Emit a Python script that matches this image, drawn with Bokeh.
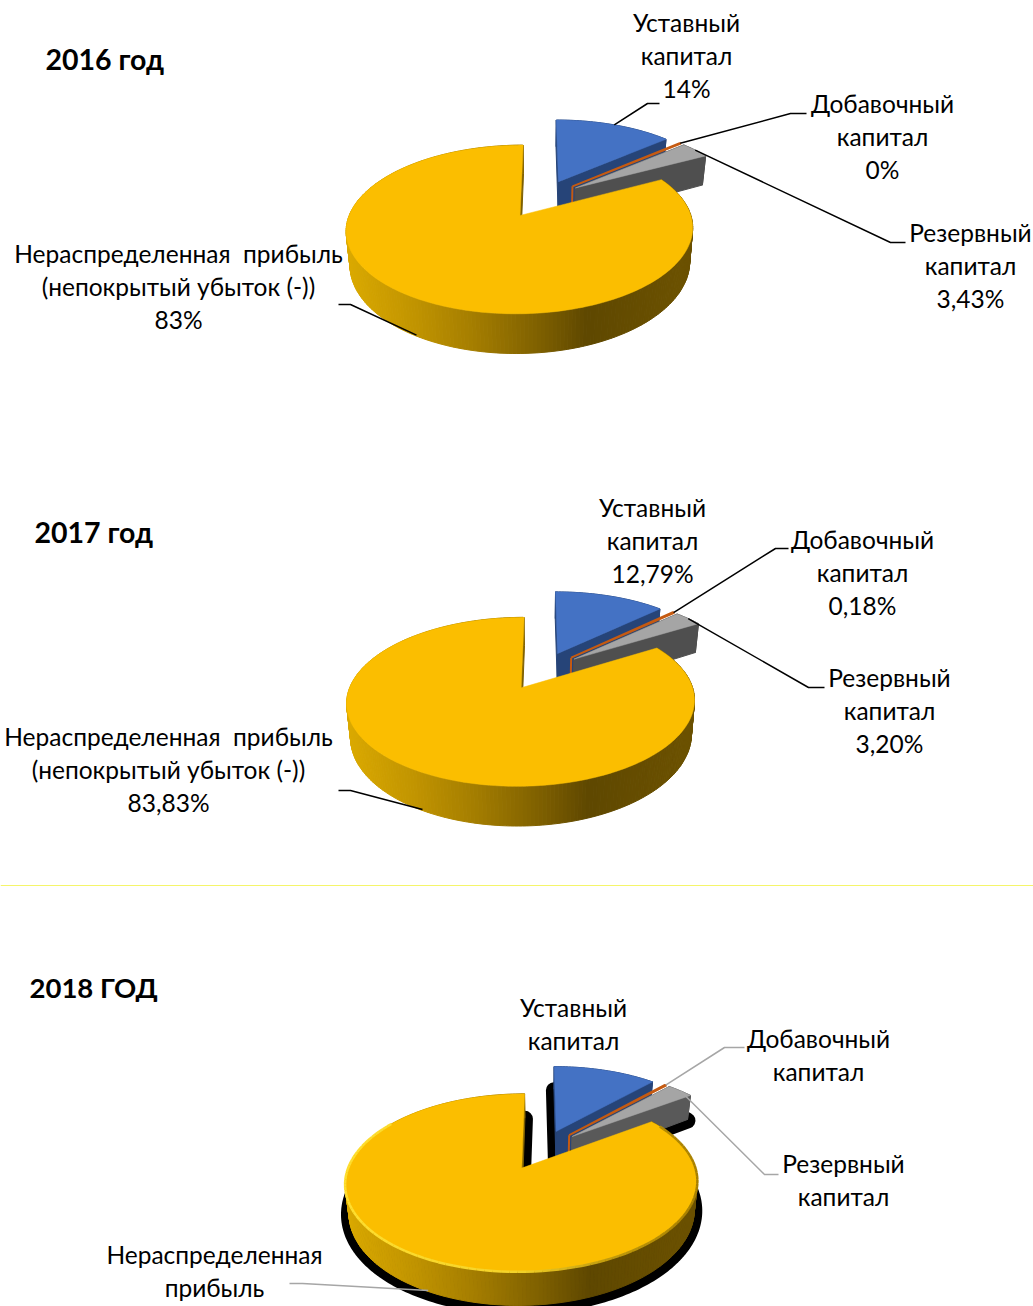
import numpy as np
from bokeh.plotting import figure
from bokeh.models import Range1d
from bokeh.core.properties import value
from bokeh.embed import file_html
from bokeh.resources import INLINE

# ---------- data ----------
values_2016 = [13.6, 0.17, 3.43, 82.8]
values_2017 = [12.79, 0.18, 3.20, 83.83]
values_2018 = [11.8, 0.2, 3.0, 85.0]
labels_2016 = ["14%", "0%", "3,43%", "83%"]
labels_2017 = ["12,79%", "0,18%", "3,20%", "83,83%"]
titles = ["2016 год", "2017 год", "2018 ГОД"]
cat_ustav = ["Уставный", "капитал"]
cat_dobav = ["Добавочный", "капитал"]
cat_rezerv = ["Резервный", "капитал"]
cat_nerasp = ["Нераспределенная\u00a0\u00a0прибыль", "(непокрытый убыток (-))"]
cat_nerasp_short = ["Нераспределенная", "прибыль"]

TOP = ["#4472c4", "#ed7d31", "#a5a5a5", "#fbbe00"]
SIDE = ["#264478", "#a5521b", "#4f4f4f", "#7d5f00"]
FONT = "Lato"
FS = "24.5px"

p = figure(width=1033, height=1306, x_range=Range1d(0, 1033), y_range=Range1d(1306, 0),
           x_axis_type=None, y_axis_type=None, toolbar_location=None,
           output_backend="svg", min_border=0, outline_line_color=None,
           background_fill_color="white", border_fill_color="white")
p.grid.visible = False


def hex2rgb(h):
    return np.array([int(h[i:i + 2], 16) for i in (1, 3, 5)], float)


STOPS = [(0.0, "#dbaa00"), (0.2, "#c19400"), (0.37, "#a57e00"), (0.57, "#7d5f00"),
         (0.7, "#5f4800"), (0.95, "#6b5100"), (1.0, "#6b5100")]


def wall_colour(t):
    ts = [s[0] for s in STOPS]
    rgb = [np.interp(t, ts, [hex2rgb(s[1])[i] for s in STOPS]) for i in range(3)]
    return "#%02x%02x%02x" % tuple(int(c) for c in rgb)


def draw_pie(vals, cx, cy, a, b, depth, k=0.16, e=0.25, shadow=False, bevel=False, side=None):
    side = side or SIDE

    def top(u, v):
        w = 1 - k * v
        return cx + a * u / w, cy + b * v / w

    def bot(u, v):
        w = 1 - k * v
        return cx + 0.98 * a * u / w, cy + b * v / w + depth / w

    vals = np.asarray(vals, float)
    edges = np.concatenate([[0], np.cumsum(vals)]) / vals.sum() * 2 * np.pi
    slices = []
    for i in range(4):
        t0, t1 = edges[i], edges[i + 1]
        mid = (t0 + t1) / 2
        cu, cv = e * np.sin(mid), -e * np.cos(mid)
        th = np.linspace(t0, t1, max(6, int((t1 - t0) / 0.02)))
        slices.append(dict(cu=cu, cv=cv, th=th, mid=mid))

    def outline(f, s):
        us = s["cu"] + np.sin(s["th"])
        vs = s["cv"] - np.cos(s["th"])
        x, y = f(us, vs)
        ax, ay = f(s["cu"], s["cv"])
        return np.r_[ax, x], np.r_[ay, y]

    if shadow:
        for s in slices:
            x, y = outline(bot, s)
            p.patch(x, y + 1, fill_color="black", line_color="black", line_width=16, line_join="round")

    def wall_arc(s, colour):
        us = s["cu"] + np.sin(s["th"])
        vs = s["cv"] - np.cos(s["th"])
        xt, yt = top(us, vs)
        xb, yb = bot(us, vs)
        p.patch(np.r_[xt, xb[::-1]], np.r_[yt, yb[::-1]], fill_color=colour, line_color=colour)

    def radial(s, t, colour):
        u, v = s["cu"] + np.sin(t), s["cv"] - np.cos(t)
        x1, y1 = top(s["cu"], s["cv"])
        x2, y2 = top(u, v)
        x3, y3 = bot(u, v)
        x4, y4 = bot(s["cu"], s["cv"])
        p.patch([x1, x2, x3, x4], [y1, y2, y3, y4], fill_color=colour, line_color=colour)

    # blue, then grey; the thin orange slice shows only as a rim
    for i in (0, 2):
        s = slices[i]
        wall_arc(s, side[i])
        radial(s, s["th"][0], side[i])
        radial(s, s["th"][-1], side[i])
        x, y = outline(top, s)
        p.patch(x, y, fill_color=TOP[i], line_color=TOP[i], line_width=0.5)

    s = slices[1]
    x, y = outline(top, s)
    p.patch(x, y, fill_color=TOP[1], line_color="#c55a11", line_width=2)
    xa, ya = top(s["cu"], s["cv"])
    xb0, yb0 = bot(s["cu"], s["cv"])
    p.line([xa, xb0], [ya, yb0], line_color="#c55a11", line_width=2)

    # yellow
    s = slices[3]
    radial(s, s["th"][-1], SIDE[3])
    th = np.arange(s["th"][0], s["th"][-1], 0.02)
    us = s["cu"] + np.sin(th)
    vs = s["cv"] - np.cos(th)
    xt, yt = top(us, vs)
    xb, yb = bot(us, vs)
    left, right = xt.min(), xt.max()
    xs, ys, cs = [], [], []
    for j in range(len(th) - 1):
        xs.append([xt[j], xt[j + 1], xb[j + 1], xb[j]])
        ys.append([yt[j], yt[j + 1], yb[j + 1], yb[j]])
        cs.append(wall_colour((xt[j] - left) / (right - left)))
    p.patches(xs, ys, fill_color=cs, line_color=cs, line_width=1)
    x, y = outline(top, s)
    p.patch(x, y, fill_color=TOP[3], line_color=TOP[3], line_width=0.5)

    if bevel:
        mx, my, mc = [], [], []
        for j in range(0, len(th) - 2, 2):
            if np.cos(th[j]) > 0.55:
                continue
            t = (xt[j] - left) / (right - left)
            base = np.interp(t, [0, 0.5, 0.75, 1], [0.0, 0.12, 0.7, 1.0])
            rgb = (1 - base) * hex2rgb("#ffdf30") + base * hex2rgb("#a88000")
            mx.append([xt[j], xt[j + 2]])
            my.append([yt[j], yt[j + 2]])
            mc.append("#%02x%02x%02x" % tuple(int(c) for c in rgb))
        p.multi_line(mx, my, line_color=mc, line_width=2.5)

    # anchor points for the leader lines
    anchors = []
    for i in range(3):
        s = slices[i]
        anchors.append(top(s["cu"] + np.sin(s["mid"]), s["cv"] - np.cos(s["mid"])))
    s = slices[3]
    u, v = s["cu"] + np.sin(s["mid"]), s["cv"] - np.cos(s["mid"])
    xa, ya = bot(u, v)
    anchors.append((xa, ya - 1))
    return anchors


def leader(start, elbow, end_x, colour="black", lw=1.5):
    p.line([start[0], elbow[0], end_x], [start[1], elbow[1], elbow[1]],
           line_color=colour, line_width=lw, line_join="round")


def label(x, y, lines, colour="black"):
    ys = [y - 2 + i * 32.8 for i in range(len(lines))]
    p.text(x=[x] * len(lines), y=ys, text=lines, text_align="center", text_baseline="middle",
           text_font=value(FONT), text_font_size=FS, text_color=colour)


def title(x, y, txt, size="28.5px"):
    p.text(x=[x], y=[y - 2], text=[txt], text_align="left", text_baseline="middle",
           text_font=value(FONT), text_font_size=size, text_font_style="bold", text_color="black")


# separator
p.line([0, 1033], [885, 885], line_color="#f5f56a", line_width=1)

# ---- 2016 ----
an = draw_pie(values_2016, 541.5, 198, 165, 76.5, 32)
leader(an[0], (647, 103), 659)
leader(an[1], (790, 113), 806)
leader(an[2], (890, 242), 905)
leader(an[3], (350, 304), 338)
title(45, 60, titles[0])
label(686, 24, cat_ustav + [labels_2016[0]])
label(882, 105, cat_dobav + [labels_2016[1]])
label(970, 234, cat_rezerv + [labels_2016[2]])
label(178, 255, cat_nerasp + [labels_2016[3]])

# ---- 2017 ----
an = draw_pie(values_2017, 541.5, 670, 165.5, 76.5, 32)
leader(an[1], (775, 548), 788)
leader(an[2], (808, 687), 824)
leader(an[3], (350, 790), 338)
title(34, 533, titles[1])
label(652, 509, cat_ustav + [labels_2017[0]])
label(862, 541, cat_dobav + [labels_2017[1]])
label(889, 679, cat_rezerv + [labels_2017[2]])
label(168, 738, cat_nerasp + [labels_2017[3]])

# ---- 2018 ----
an = draw_pie(values_2018, 541, 1149, 167.5, 80.5, 27, shadow=True, bevel=True,
              side=["#264478", "#a5521b", "#595959", "#7d5f00"])
GREY = "#a6a6a6"
leader(an[1], (724, 1047), 744, GREY)
leader(an[2], (764, 1174), 778, GREY)
leader(an[3], (302, 1283), 289, GREY)
title(29, 989, titles[2], "27.5px")
label(573, 1009, cat_ustav)
label(818, 1040, cat_dobav)
label(843, 1165, cat_rezerv)
label(214, 1256, cat_nerasp_short)

open("out.html", "w").write(file_html(p, INLINE))
